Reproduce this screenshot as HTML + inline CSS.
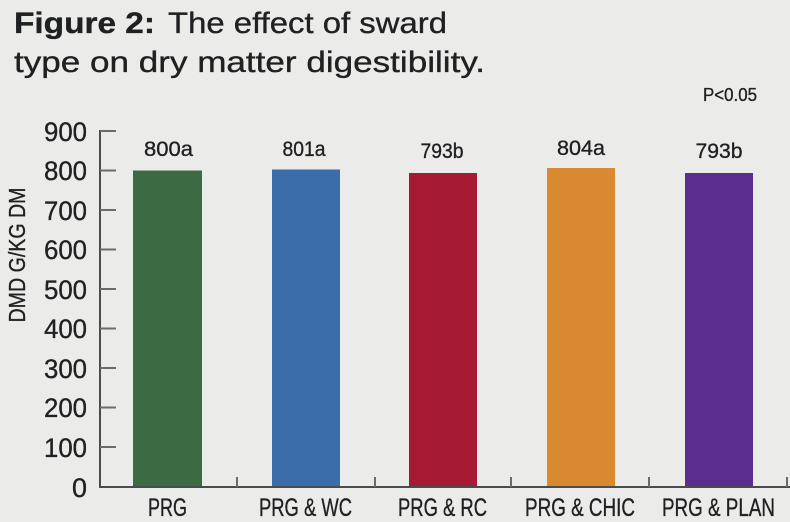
<!DOCTYPE html>
<html>
<head>
<meta charset="utf-8">
<style>
  html, body { margin: 0; padding: 0; }
  body { width: 790px; height: 522px; overflow: hidden; background: #ebebe9; }
  svg { display: block; }
  text { font-family: "Liberation Sans", "DejaVu Sans", sans-serif; fill: #1f2022; stroke: #1f2022; stroke-width: 0.35; }
</style>
</head>
<body>
<svg width="790" height="522" viewBox="0 0 790 522" xmlns="http://www.w3.org/2000/svg">
  <rect x="0" y="0" width="790" height="522" fill="#ebebe9"/>

  <!-- Title -->
  <text x="14" y="33" font-size="30" font-weight="bold" textLength="141" lengthAdjust="spacingAndGlyphs">Figure 2:</text>
  <text x="168" y="33" font-size="30" textLength="279" lengthAdjust="spacingAndGlyphs">The effect of sward</text>
  <text x="14" y="72" font-size="30" textLength="471" lengthAdjust="spacingAndGlyphs">type on dry matter digestibility.</text>

  <!-- P value -->
  <text x="703" y="101" font-size="18" textLength="54" lengthAdjust="spacingAndGlyphs">P&lt;0.05</text>

  <!-- Y axis label -->
  <text transform="translate(25,255) rotate(-90)" x="0" y="0" font-size="23" text-anchor="middle" textLength="135" lengthAdjust="spacingAndGlyphs">DMD G/KG DM</text>

  <!-- Y tick labels -->
  <g font-size="27" text-anchor="end">
    <text x="87" y="141" textLength="43" lengthAdjust="spacingAndGlyphs">900</text>
    <text x="87" y="180" textLength="43" lengthAdjust="spacingAndGlyphs">800</text>
    <text x="87" y="220" textLength="43" lengthAdjust="spacingAndGlyphs">700</text>
    <text x="87" y="259" textLength="43" lengthAdjust="spacingAndGlyphs">600</text>
    <text x="87" y="299" textLength="43" lengthAdjust="spacingAndGlyphs">500</text>
    <text x="87" y="338" textLength="43" lengthAdjust="spacingAndGlyphs">400</text>
    <text x="87" y="378" textLength="43" lengthAdjust="spacingAndGlyphs">300</text>
    <text x="87" y="417" textLength="43" lengthAdjust="spacingAndGlyphs">200</text>
    <text x="87" y="457" textLength="43" lengthAdjust="spacingAndGlyphs">100</text>
    <text x="87" y="497" textLength="15" lengthAdjust="spacingAndGlyphs">0</text>
  </g>

  <!-- Bars -->
  <rect x="133" y="170.5" width="69" height="316.5" fill="#3c6a42"/>
  <rect x="272" y="169.5" width="68" height="317.5" fill="#3b6dab"/>
  <rect x="409" y="173" width="68" height="314" fill="#a61b33"/>
  <rect x="547" y="168" width="68" height="319" fill="#d98a30"/>
  <rect x="685" y="173" width="68" height="314" fill="#5b2d8e"/>

  <!-- Axes -->
  <g stroke="#4a4b4d" stroke-width="2" fill="none">
    <line x1="100" y1="130" x2="100" y2="488"/>
    <line x1="99" y1="487" x2="790" y2="487"/>
  </g>
  <g stroke="#6a6b6d" stroke-width="2">
    <line x1="100" y1="131" x2="116" y2="131"/>
    <line x1="100" y1="170.5" x2="116" y2="170.5"/>
    <line x1="100" y1="210" x2="116" y2="210"/>
    <line x1="100" y1="249.5" x2="116" y2="249.5"/>
    <line x1="100" y1="289" x2="116" y2="289"/>
    <line x1="100" y1="328.5" x2="116" y2="328.5"/>
    <line x1="100" y1="368" x2="116" y2="368"/>
    <line x1="100" y1="407.5" x2="116" y2="407.5"/>
    <line x1="100" y1="447" x2="116" y2="447"/>
    <line x1="237" y1="477" x2="237" y2="487"/>
    <line x1="375" y1="477" x2="375" y2="487"/>
    <line x1="511" y1="477" x2="511" y2="487"/>
    <line x1="649" y1="477" x2="649" y2="487"/>
    <line x1="787" y1="477" x2="787" y2="487"/>
  </g>

  <!-- Value labels -->
  <g font-size="21" text-anchor="middle">
    <text x="168.5" y="156" textLength="49" lengthAdjust="spacingAndGlyphs">800a</text>
    <text x="304" y="156" textLength="43" lengthAdjust="spacingAndGlyphs">801a</text>
    <text x="442" y="158" textLength="43" lengthAdjust="spacingAndGlyphs">793b</text>
    <text x="581" y="155" textLength="48" lengthAdjust="spacingAndGlyphs">804a</text>
    <text x="719" y="158" textLength="47" lengthAdjust="spacingAndGlyphs">793b</text>
  </g>

  <!-- X labels -->
  <g font-size="25">
    <text x="148" y="516" textLength="39" lengthAdjust="spacingAndGlyphs">PRG</text>
    <text x="259" y="516" textLength="93" lengthAdjust="spacingAndGlyphs">PRG &amp; WC</text>
    <text x="398" y="516" textLength="89" lengthAdjust="spacingAndGlyphs">PRG &amp; RC</text>
    <text x="525" y="516" textLength="110" lengthAdjust="spacingAndGlyphs">PRG &amp; CHIC</text>
    <text x="662" y="516" textLength="113" lengthAdjust="spacingAndGlyphs">PRG &amp; PLAN</text>
  </g>
</svg>
</body>
</html>
